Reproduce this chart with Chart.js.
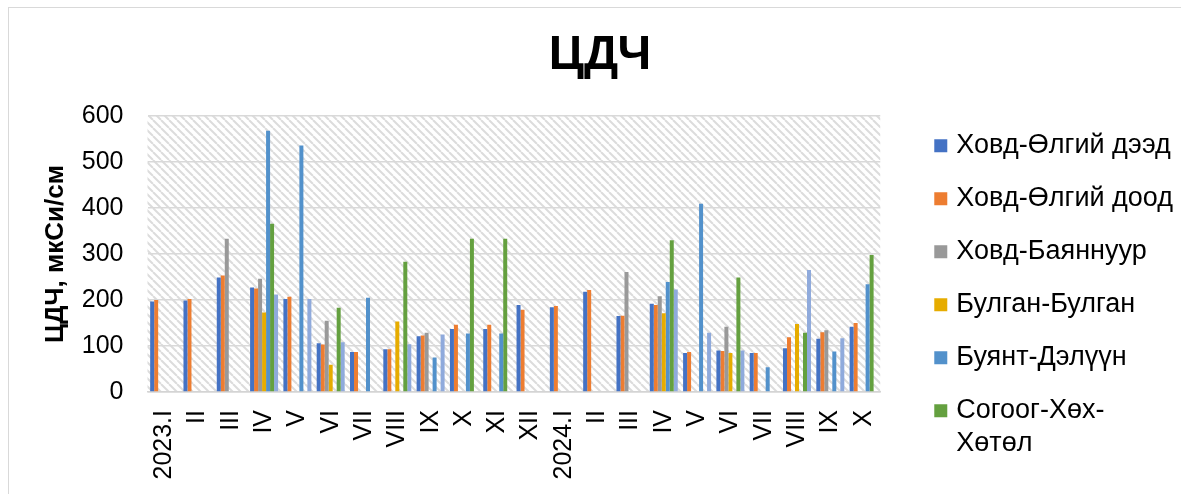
<!DOCTYPE html>
<html>
<head>
<meta charset="utf-8">
<title>ЦДЧ</title>
<script src="https://cdn.jsdelivr.net/npm/chart.js@4.4.1/dist/chart.umd.min.js"></script>
<style>
  html, body { margin: 0; padding: 0; background: #fff; overflow: hidden; }
  .frame {
    position: absolute; left: 8px; top: 7px; width: 1200px; height: 520px;
    border-left: 1px solid #d9d9d9; border-top: 1px solid #d9d9d9;
  }
  canvas { display: block; }
</style>
</head>
<body>
<div class="frame"><canvas id="chart" width="1174" height="480"></canvas></div>
<script>
// months, 2023.I .. 2024.X
const MONTHS = [
  "2023.I", "II", "III", "IV", "V", "VI", "VII", "VIII", "IX", "X", "XI", "XII",
  "2024.I", "II", "III", "IV", "V", "VI", "VII", "VIII", "IX", "X",
];

// ЦДЧ, мкСи/см by station (null = no measurement)
const KHOVD_ULGII_UPPER = [197, 199, 249, 227, 202, 106, 87, 93, 121, 137, 137, 189, 184, 218, 165, 192, 85, 90, 85, 95, 116, 142];
const KHOVD_ULGII_LOWER = [200, 202, 253, 225, 207, 103, 87, 93, 123, 146, 146, 179, 187, 222, 166, 189, 87, 89, 85, 119, 130, 150];
const KHOVD_BAYANNUUR = [null, null, 333, 246, null, 155, null, null, 129, null, null, null, null, null, 261, 208, null, 142, null, null, 134, null];
const BULGAN_BULGAN = [null, null, null, 173, null, 59, null, 153, null, null, null, null, null, null, null, 171, null, 85, null, 148, null, null];
const BUYANT_DELUUN = [null, null, null, 568, 536, null, 205, null, 75, 127, 127, null, null, null, null, 239, 409, null, 54, null, 88, 234];
const SOGOOG = [null, null, null, 366, null, 183, null, 283, null, 333, 333, null, null, null, null, 330, null, 249, null, 129, null, 298];
// 7th series: its legend entry is cut off in the source
const SEVENTH = [null, null, null, 212, 202, 108, null, 104, 125, null, null, null, null, null, null, 223, 129, 90, null, 265, 117, null];

const Y_TICKS = [0, 100, 200, 300, 400, 500, 600];

const SERIES = [
  ["Ховд-Өлгий дээд", KHOVD_ULGII_UPPER, "#4472C4"],
  ["Ховд-Өлгий доод", KHOVD_ULGII_LOWER, "#ED7D31"],
  ["Ховд-Баяннуур", KHOVD_BAYANNUUR, "#999999"],
  ["Булган-Булган", BULGAN_BULGAN, "#E6AC00"],
  ["Буянт-Дэлүүн", BUYANT_DELUUN, "#5291CB"],
  ["Согоог-Хөх-Хөтөл", SOGOOG, "#64A03F"],
  ["", SEVENTH, "#8FAADC"],
];

const LEGEND_COUNT = 6;
const LEGEND_WRAP = { "Согоог-Хөх-Хөтөл": ["Согоог-Хөх-", "Хөтөл"] };

const FONT = "'Liberation Sans', Arial, sans-serif";
Chart.defaults.font.family = FONT;
Chart.defaults.color = "#000";

/** Excel-like hatched plot background. */
function hatchPattern(ctx) {
  const tile = document.createElement("canvas");
  tile.width = 8;
  tile.height = 8;
  const t = tile.getContext("2d");
  t.fillStyle = "#fff";
  t.fillRect(0, 0, 8, 8);
  t.strokeStyle = "#dcdcdc";
  t.lineWidth = 2;
  for (const o of [-8, 0, 8]) {
    t.beginPath();
    t.moveTo(o, 0);
    t.lineTo(o + 8, 8);
    t.stroke();
  }
  return ctx.createPattern(tile, "repeat");
}

const plotBackground = {
  id: "plotBackground",
  beforeDraw(chart) {
    const { ctx, chartArea: a } = chart;
    if (!this._pattern) this._pattern = hatchPattern(ctx);
    ctx.save();
    ctx.fillStyle = this._pattern;
    ctx.fillRect(a.left, a.top, a.right - a.left, a.bottom - a.top);
    ctx.restore();
  },
};

const ctx = document.getElementById("chart").getContext("2d");
new Chart(ctx, {
  type: "bar",
  data: {
    labels: MONTHS,
    datasets: SERIES.map(([label, data, color]) => ({
      label,
      data,
      backgroundColor: color,
      borderWidth: 0,
      categoryPercentage: 0.84,
      barPercentage: 1,
    })),
  },
  plugins: [plotBackground],
  options: {
    responsive: false,
    animation: false,
    // left padding keeps the title centred over the whole frame
    layout: { padding: { left: 8 } },
    plugins: {
      title: {
        display: true,
        text: "ЦДЧ",
        color: "#000",
        font: { size: 48, weight: "bold" },
        padding: { top: 18.6, bottom: 31.8 },
      },
      legend: {
        position: "right",
        align: "end",
        maxWidth: 320,
        labels: {
          color: "#000",
          font: { size: 27 },
          usePointStyle: true,
          pointStyle: "rect",
          boxWidth: 4,
          boxHeight: 13,
          padding: 26,
          generateLabels(chart) {
            const items = Chart.defaults.plugins.legend.labels.generateLabels(chart);
            return items
              .filter((it) => it.datasetIndex < LEGEND_COUNT)
              .map((it) => {
                if (LEGEND_WRAP[it.text]) it.text = LEGEND_WRAP[it.text];
                return it;
              });
          },
        },
      },
      tooltip: { enabled: false },
    },
    scales: {
      x: {
        grid: { display: false, drawTicks: false },
        border: { color: "#d4d4d4", width: 1.5 },
        ticks: {
          font: { size: 25 },
          color: "#000",
          minRotation: 90,
          maxRotation: 90,
          autoSkip: false,
          padding: 18,
        },
        afterFit(scale) {
          scale.height = 96;
        },
      },
      y: {
        min: Y_TICKS[0],
        max: Y_TICKS[Y_TICKS.length - 1],
        afterBuildTicks(scale) {
          scale.ticks = Y_TICKS.map((value) => ({ value }));
        },
        afterFit(scale) {
          scale.width = 130.5;
        },
        grid: { color: "#d9d9d9", lineWidth: 1.5, drawTicks: false },
        border: { display: false },
        ticks: { font: { size: 25 }, color: "#000", padding: 24 },
        title: {
          display: true,
          text: "ЦДЧ, мкСи/см",
          color: "#000",
          font: { size: 26, weight: "bold" },
          padding: { top: 23.4, bottom: 10 },
        },
      },
      // spacer between plot and legend
      gap: {
        type: "linear",
        position: "right",
        grid: { display: false, drawTicks: false },
        border: { display: false },
        ticks: { display: false },
        afterFit(scale) {
          scale.width = 32.5;
        },
      },
    },
  },
});
</script>
</body>
</html>
